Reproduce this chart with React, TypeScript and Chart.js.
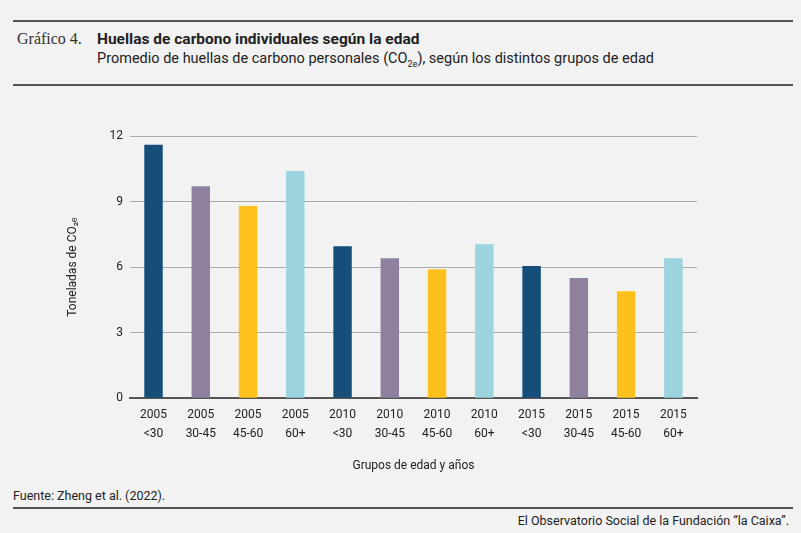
import { Chart, registerables } from 'chart.js';
import { useEffect, useRef } from 'react';

Chart.register(...registerables);

const years = ['2005', '2005', '2005', '2005', '2010', '2010', '2010', '2010', '2015', '2015', '2015', '2015'];
const ageGroups = ['<30', '30-45', '45-60', '60+', '<30', '30-45', '45-60', '60+', '<30', '30-45', '45-60', '60+'];
const tonnes = [11.6, 9.7, 8.8, 10.4, 6.95, 6.4, 5.9, 7.05, 6.05, 5.5, 4.9, 6.4];
const yTicks = [0, 3, 6, 9, 12];

const ageColors: Record<string, string> = {
  '<30': '#144e79',
  '30-45': '#8f819d',
  '45-60': '#fec01a',
  '60+': '#9bd3de',
};

const sans = 'Roboto, "Liberation Sans", Arial, sans-serif';

function CarbonChart() {
  const canvasRef = useRef<HTMLCanvasElement | null>(null);

  useEffect(() => {
    if (!canvasRef.current) return;
    const chart = new Chart(canvasRef.current, {
      type: 'bar',
      data: {
        labels: years.map((y, i) => [y, ageGroups[i]]),
        datasets: [
          {
            label: 'Toneladas',
            data: tonnes,
            backgroundColor: ageGroups.map((g) => ageColors[g]),
            barPercentage: 0.39,
            categoryPercentage: 1,
          },
        ],
      },
      options: {
        animation: false,
        responsive: true,
        maintainAspectRatio: false,
        layout: { padding: { left: 62, right: 104, top: 40, bottom: 9 } },
        plugins: { legend: { display: false }, tooltip: { enabled: false } },
        scales: {
          x: {
            grid: { display: false },
            border: { color: '#555', width: 2 },
            ticks: {
              color: '#222',
              font: { family: sans, size: 12, lineHeight: 1.6 },
              padding: -1,
              maxRotation: 0,
            },
            title: {
              display: true,
              text: 'Grupos de edad y años',
              color: '#222',
              font: { family: sans, size: 12 },
              padding: { top: 16 },
            },
          },
          y: {
            min: 0,
            max: 12,
            afterBuildTicks: (axis) => {
              axis.ticks = yTicks.map((v) => ({ value: v }));
            },
            grid: { color: '#aaa', lineWidth: 1, drawTicks: false },
            border: { display: false },
            ticks: {
              color: '#222',
              font: { family: sans, size: 12 },
              padding: 7,
            },
            title: {
              display: true,
              text: 'Toneladas de CO₂ₑ',
              color: '#222',
              font: { family: sans, size: 12 },
              padding: { bottom: 22 },
            },
          },
        },
      },
    });
    return () => chart.destroy();
  }, []);

  return <canvas ref={canvasRef}></canvas>;
}

const rule = (top: number) => (
  <div style={{ position: 'absolute', left: 13, width: 780, top, height: 2, background: '#555' }} />
);

export default function App() {
  return (
    <div
      style={{
        position: 'absolute',
        left: 0,
        top: 0,
        width: 801,
        height: 533,
        background: '#f2f2f2',
        fontFamily: sans,
        color: '#222',
        overflow: 'hidden',
      }}
    >
      {rule(20)}
      <div style={{ position: 'absolute', left: 17, top: 30, fontFamily: '"Liberation Serif", serif', fontSize: 16, color: '#333' }}>
        Gráfico 4.
      </div>
      <div style={{ position: 'absolute', left: 97, top: 30, fontSize: 15.5, fontWeight: 'bold' }}>
        Huellas de carbono individuales según la edad
      </div>
      <div style={{ position: 'absolute', left: 97, top: 50, fontSize: 14.5 }}>
        Promedio de huellas de carbono personales (CO<sub style={{ fontSize: 9 }}>2e</sub>), según los distintos grupos de edad
      </div>
      {rule(84)}
      <div style={{ position: 'absolute', left: 0, top: 96, width: 801, height: 390 }}>
        <CarbonChart />
      </div>
      <div style={{ position: 'absolute', left: 13, top: 488, fontSize: 12.5 }}>Fuente: Zheng et al. (2022).</div>
      {rule(507)}
      <div style={{ position: 'absolute', right: 12, top: 513, fontSize: 12.5 }}>
        El Observatorio Social de la Fundación “la Caixa”.
      </div>
    </div>
  );
}
